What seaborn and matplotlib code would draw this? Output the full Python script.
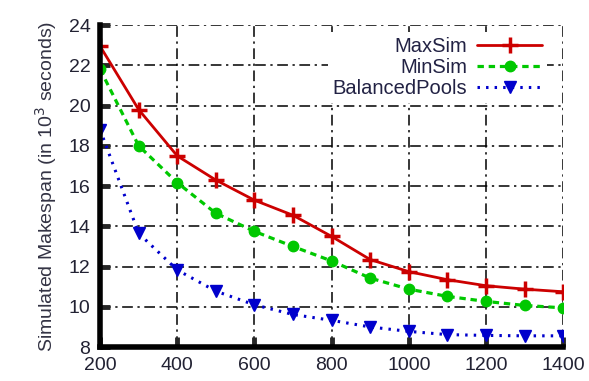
import numpy as np
import pandas as pd
import matplotlib
matplotlib.use("Agg")
import matplotlib.pyplot as plt
import seaborn as sns

# datos (makespan en miles de segundos)
pools = [200, 300, 400, 500, 600, 700, 800, 900, 1000, 1100, 1200, 1300, 1400]
max_sim = [22.95, 19.8, 17.5, 16.3, 15.3, 14.55, 13.5, 12.35, 11.75, 11.35, 11.05, 10.88, 10.75]
min_sim = [21.8, 18.0, 16.17, 14.65, 13.75, 13.0, 12.28, 11.43, 10.88, 10.52, 10.27, 10.07, 9.95]
balanced = [18.8, 13.65, 11.83, 10.78, 10.1, 9.62, 9.33, 9.0, 8.78, 8.62, 8.58, 8.56, 8.56]

series = ["MaxSim", "MinSim", "BalancedPools"]
colores = {"MaxSim": "#cc0000", "MinSim": "#00c800", "BalancedPools": "#0000cc"}

df = pd.DataFrame({
    "pools": pools * 3,
    "makespan": max_sim + min_sim + balanced,
    "serie": ["MaxSim"] * len(pools) + ["MinSim"] * len(pools) + ["BalancedPools"] * len(pools),
})

sns.set_style("white")
plt.rcParams["font.family"] = ["Liberation Sans", "DejaVu Sans"]

fig = plt.figure(figsize=(5.89, 3.81), dpi=100)
ax = fig.add_axes([0.170, 0.089, 0.786, 0.845])

estilos = {
    "MaxSim": dict(linestyle="-", marker="+", markersize=11, markeredgewidth=2.5, linewidth=2),
    "MinSim": dict(linestyle=(0, (2, 1.5)), marker="o", markersize=7.5, markeredgewidth=1, linewidth=2.3),
    "BalancedPools": dict(linestyle=(0, (0.8, 2)), marker="v", markersize=9, markeredgewidth=1, linewidth=2.2),
}
for s in series:
    sns.lineplot(data=df[df["serie"] == s], x="pools", y="makespan", ax=ax,
                 color=colores[s], label=s, markeredgecolor=colores[s], **estilos[s])

ax.set_xlim(200, 1400)
ax.set_ylim(8, 24)
ax.set_xticks(range(200, 1401, 200))
ax.set_yticks(range(8, 25, 2))
ax.grid(True, color="black", linestyle=(0, (7, 3, 1.5, 3)), linewidth=1.1)
ax.set_axisbelow(True)

for side in ["top", "right"]:
    ax.spines[side].set_visible(False)
for side in ["left", "bottom"]:
    ax.spines[side].set_linewidth(4)
    ax.spines[side].set_color("black")
ax.tick_params(axis="both", direction="in", length=7, width=3.5, labelsize=14,
               labelcolor="#222233", pad=7, bottom=True, left=True)

ax.set_xlabel("")
ax.set_ylabel("Simulated Makespan (in 10$^3$ seconds)", fontsize=14, color="#333344", labelpad=7)

leg = ax.legend(loc="upper right", markerfirst=False, frameon=True, fontsize=14.5,
                handlelength=3.2, handletextpad=0.5, labelspacing=0.1,
                borderpad=0.25, borderaxespad=0.0, fancybox=False,
                bbox_to_anchor=(0.965, 0.98))
leg.get_frame().set_facecolor("white")
leg.get_frame().set_edgecolor("none")
leg.get_frame().set_alpha(1)
for t in leg.get_texts():
    t.set_color("#222244")
    t.set_ha("right")

fig.savefig("out.png", dpi=100)
